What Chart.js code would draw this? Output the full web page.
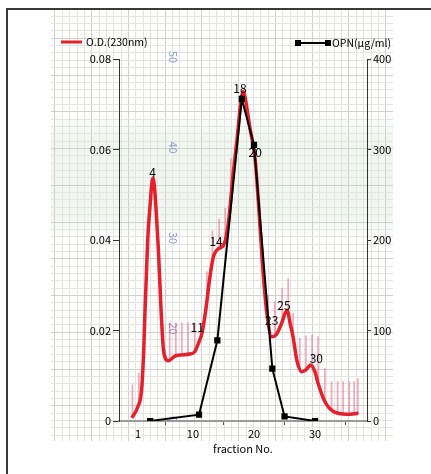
<!DOCTYPE html>
<html>
<head>
<meta charset="utf-8">
<script src="https://cdn.jsdelivr.net/npm/chart.js@4.4.0/dist/chart.umd.min.js"></script>
<style>
  html, body { margin: 0; padding: 0; background: #fff; }
  #grafico { display: block; }
</style>
</head>
<body>
<canvas id="grafico" width="431" height="474"></canvas>
<script>
const odFraction = [0, 1, 1.6, 1.95, 2.1, 2.6, 2.95, 3.44, 4.26, 4.87, 5.2, 5.95, 7, 8, 9.5, 10.3, 11, 11.5, 12.1, 12.7, 13.3, 14.1, 15, 15.8, 16.6, 17.2, 18.2, 19.3, 20.2, 20.7, 21.5, 22.1, 22.9, 23.6, 24.5, 25.4, 26, 26.4, 27, 27.8, 28.5, 29.3, 30, 30.5, 31.6, 33, 35.2, 37.1];
const odValue = [0.0007, 0.0032, 0.0069, 0.0157, 0.022, 0.040, 0.047, 0.0537, 0.040, 0.0223, 0.0155, 0.0133, 0.0143, 0.0146, 0.0148, 0.0153, 0.0175, 0.0195, 0.0245, 0.031, 0.036, 0.038, 0.0388, 0.0437, 0.0548, 0.062, 0.0728, 0.065, 0.0577, 0.0488, 0.0327, 0.0239, 0.0186, 0.019, 0.0215, 0.0245, 0.021, 0.0186, 0.0135, 0.0109, 0.0113, 0.0124, 0.0108, 0.0083, 0.0043, 0.0021, 0.0015, 0.0017];

// OPN (ug/ml)
const opnFraction = [3, 11, 14, 18, 20, 23, 25, 30];
const opnValue = [0, 7, 89, 356, 305, 58, 5, 0];

// marcas rosa do coletor de frações
const marcaFraction = [0.1, 1.15, 6.2, 7.2, 8.2, 9.2, 10.3, 12.3, 13.2, 14.3, 15.3, 16.2, 22.3, 23.4, 24.6, 25.6, 26.4, 27.5, 28.5, 29.5, 30.5, 31.6, 32.7, 33.7, 34.6, 35.6, 36.4, 37];
const marcaBase = [0.0008, 0.004, 0.0135, 0.0143, 0.0146, 0.0147, 0.0153, 0.027, 0.0355, 0.038, 0.040, 0.049, 0.022, 0.0188, 0.022, 0.023, 0.0183, 0.011, 0.0113, 0.0122, 0.008, 0.0043, 0.0024, 0.0018, 0.0016, 0.0015, 0.0016, 0.0017];
const marcaTopo = [0.008, 0.0106, 0.0217, 0.0217, 0.0217, 0.0217, 0.0217, 0.033, 0.042, 0.0446, 0.047, 0.058, 0.0278, 0.0264, 0.0293, 0.0315, 0.0238, 0.0183, 0.0188, 0.019, 0.0186, 0.0116, 0.0087, 0.0087, 0.0087, 0.0087, 0.0087, 0.0094];

// números escritos nos picos
const picoTexto = ['4', '11', '14', '18', '20', '23', '25', '30'];
const picoFraction = [3.4, 10.7, 13.8, 17.7, 20.2, 22.9, 24.9, 30.2];
const picoOD = [0.055, 0.0206, 0.0396, 0.0736, 0.0594, 0.0223, 0.0256, 0.0139];

const xTicks = [1, 10, 20, 30];
const odTicks = [0, 0.02, 0.04, 0.06, 0.08];
const opnTicks = [0, 100, 200, 300, 400];

const fonte = '"Noto Sans CJK JP", "DejaVu Sans", sans-serif';

// papel milimetrado de fundo + moldura
const papel = {
    id: 'papel',
    beforeDraw(chart) {
        const { ctx, chartArea: a, scales: { x, y } } = chart;
        const cel = 7.35;
        const esq = a.left - 68, dir = a.right + 26, topo = 10, fundo = a.bottom + 20;
        const baseX = a.right - 55.3, baseY = a.top + 89;
        ctx.save();
        ctx.fillStyle = '#fff';
        ctx.fillRect(0, 0, chart.width, chart.height);
        ctx.fillStyle = '#fdfdfc';
        ctx.fillRect(esq, topo, dir - esq, fundo - topo);
        const verde = ctx.createLinearGradient(0, a.top + 55, 0, a.top + 180);
        verde.addColorStop(0, 'rgba(222,240,222,0)');
        verde.addColorStop(0.2, 'rgba(222,240,222,0.45)');
        verde.addColorStop(0.8, 'rgba(222,240,222,0.45)');
        verde.addColorStop(1, 'rgba(222,240,222,0)');
        ctx.fillStyle = verde;
        ctx.fillRect(esq, a.top + 55, dir - esq, 125);
        ctx.lineWidth = 1;
        for (let k = -60; k <= 60; k++) {
            const px = Math.round(baseX + k * cel) + 0.5;
            if (px < esq || px > dir) continue;
            ctx.strokeStyle = (k % 5 === 0) ? '#cfd1cf' : '#e3e5e3';
            ctx.beginPath(); ctx.moveTo(px, topo); ctx.lineTo(px, fundo); ctx.stroke();
        }
        for (let j = -70; j <= 70; j++) {
            const py = Math.round(baseY + j * cel) + 0.5;
            if (py < topo || py > fundo) continue;
            ctx.strokeStyle = (j % 5 === 0) ? '#cfd1cf' : '#e3e5e3';
            ctx.beginPath(); ctx.moveTo(esq, py); ctx.lineTo(dir, py); ctx.stroke();
        }
        // números azuis impressos no papel
        ctx.fillStyle = '#8d9bcc';
        ctx.font = '11px ' + fonte;
        ctx.textAlign = 'center';
        ctx.textBaseline = 'middle';
        ['50', '40', '30', '20', '0'].forEach((t, i) => {
            ctx.save();
            ctx.translate(x.getPixelForValue(6.7), y.getPixelForValue(0.08 - i * 0.02) - 2);
            ctx.rotate(Math.PI / 2);
            ctx.fillText(t, 0, 0);
            ctx.restore();
        });
        ctx.restore();
    },
    afterDraw(chart) {
        const { ctx } = chart;
        ctx.save();
        ctx.strokeStyle = '#3a3a3a';
        ctx.lineWidth = 2;
        ctx.beginPath();
        ctx.moveTo(7, chart.height);
        ctx.lineTo(7, 9);
        ctx.lineTo(chart.width, 9);
        ctx.stroke();
        ctx.restore();
    }
};

// rótulos dos picos e legendas
const rotulos = {
    id: 'rotulos',
    afterDatasetsDraw(chart) {
        const { ctx, scales: { x, y } } = chart;
        ctx.save();
        ctx.font = '12px ' + fonte;
        ctx.fillStyle = '#000';
        ctx.textAlign = 'center';
        ctx.textBaseline = 'middle';
        picoTexto.forEach((t, i) => {
            ctx.fillText(t, x.getPixelForValue(picoFraction[i]), y.getPixelForValue(picoOD[i]));
        });

        const od = chart.data.datasets[0], opn = chart.data.datasets[1];
        ctx.font = '10.5px ' + fonte;
        ctx.textAlign = 'left';
        ctx.strokeStyle = od.borderColor;
        ctx.lineWidth = 3;
        ctx.beginPath(); ctx.moveTo(61, 42); ctx.lineTo(82, 42); ctx.stroke();
        ctx.fillText(od.label, 86, 42);

        ctx.strokeStyle = opn.borderColor;
        ctx.lineWidth = 2;
        ctx.beginPath(); ctx.moveTo(298, 43); ctx.lineTo(328, 43); ctx.stroke();
        ctx.fillRect(295, 40, 6, 6);
        ctx.fillRect(325, 40, 6, 6);
        ctx.fillText(opn.label, 332, 43);
        ctx.restore();
    }
};

const ctx = document.getElementById('grafico').getContext('2d');
new Chart(ctx, {
    type: 'line',
    data: {
        datasets: [{
            label: 'O.D.(230nm)',
            data: odFraction.map((f, i) => ({ x: f, y: odValue[i] })),
            borderColor: '#e3202b',
            borderWidth: 3.5,
            pointRadius: 0,
            cubicInterpolationMode: 'monotone',
            yAxisID: 'y',
            order: 2
        }, {
            label: 'OPN(μg/ml)',
            data: opnFraction.map((f, i) => ({ x: f, y: opnValue[i] })),
            borderColor: '#000',
            borderWidth: 2,
            pointStyle: 'rect',
            pointRadius: 3,
            pointBackgroundColor: '#000',
            pointBorderColor: '#000',
            tension: 0,
            yAxisID: 'y1',
            order: 1
        }, {
            type: 'bar',
            label: 'marcas',
            data: marcaFraction.map((f, i) => ({ x: f, y: [marcaBase[i], marcaTopo[i]] })),
            backgroundColor: 'rgba(232,90,120,0.5)',
            barThickness: 1,
            grouped: false,
            yAxisID: 'y',
            order: 3
        }]
    },
    options: {
        responsive: false,
        animation: false,
        layout: { padding: { left: 0, right: 0, top: 59, bottom: 15 } },
        plugins: {
            legend: { display: false },
            tooltip: { enabled: false }
        },
        scales: {
            x: {
                type: 'linear',
                min: -2.1,
                max: 38.5,
                offset: false,
                afterBuildTicks: s => { s.ticks = xTicks.map(v => ({ value: v })); },
                afterFit: s => { s.height = 38; },
                ticks: { color: '#000', font: { family: fonte, size: 11 }, padding: 2, autoSkip: false, maxRotation: 0 },
                grid: { drawOnChartArea: false, tickLength: 4, color: '#555' },
                border: { color: '#9a9a9a', width: 2 },
                title: { display: true, text: 'fraction No.', color: '#000', font: { family: fonte, size: 11 } }
            },
            y: {
                position: 'left',
                min: 0,
                max: 0.08,
                afterBuildTicks: s => { s.ticks = odTicks.map(v => ({ value: v })); },
                afterFit: s => { s.width = 119; },
                ticks: { color: '#000', font: { family: fonte, size: 11 }, padding: 2 },
                grid: { drawOnChartArea: false, tickLength: 6, color: '#333' },
                border: { color: '#333' }
            },
            y1: {
                position: 'right',
                min: 0,
                max: 400,
                afterBuildTicks: s => { s.ticks = opnTicks.map(v => ({ value: v })); },
                afterFit: s => { s.width = 64; },
                ticks: { color: '#000', font: { family: fonte, size: 11 }, padding: 2 },
                grid: { drawOnChartArea: false, tickLength: 4, color: '#333' },
                border: { color: '#333' }
            }
        }
    },
    plugins: [papel, rotulos]
});
</script>
</body>
</html>
